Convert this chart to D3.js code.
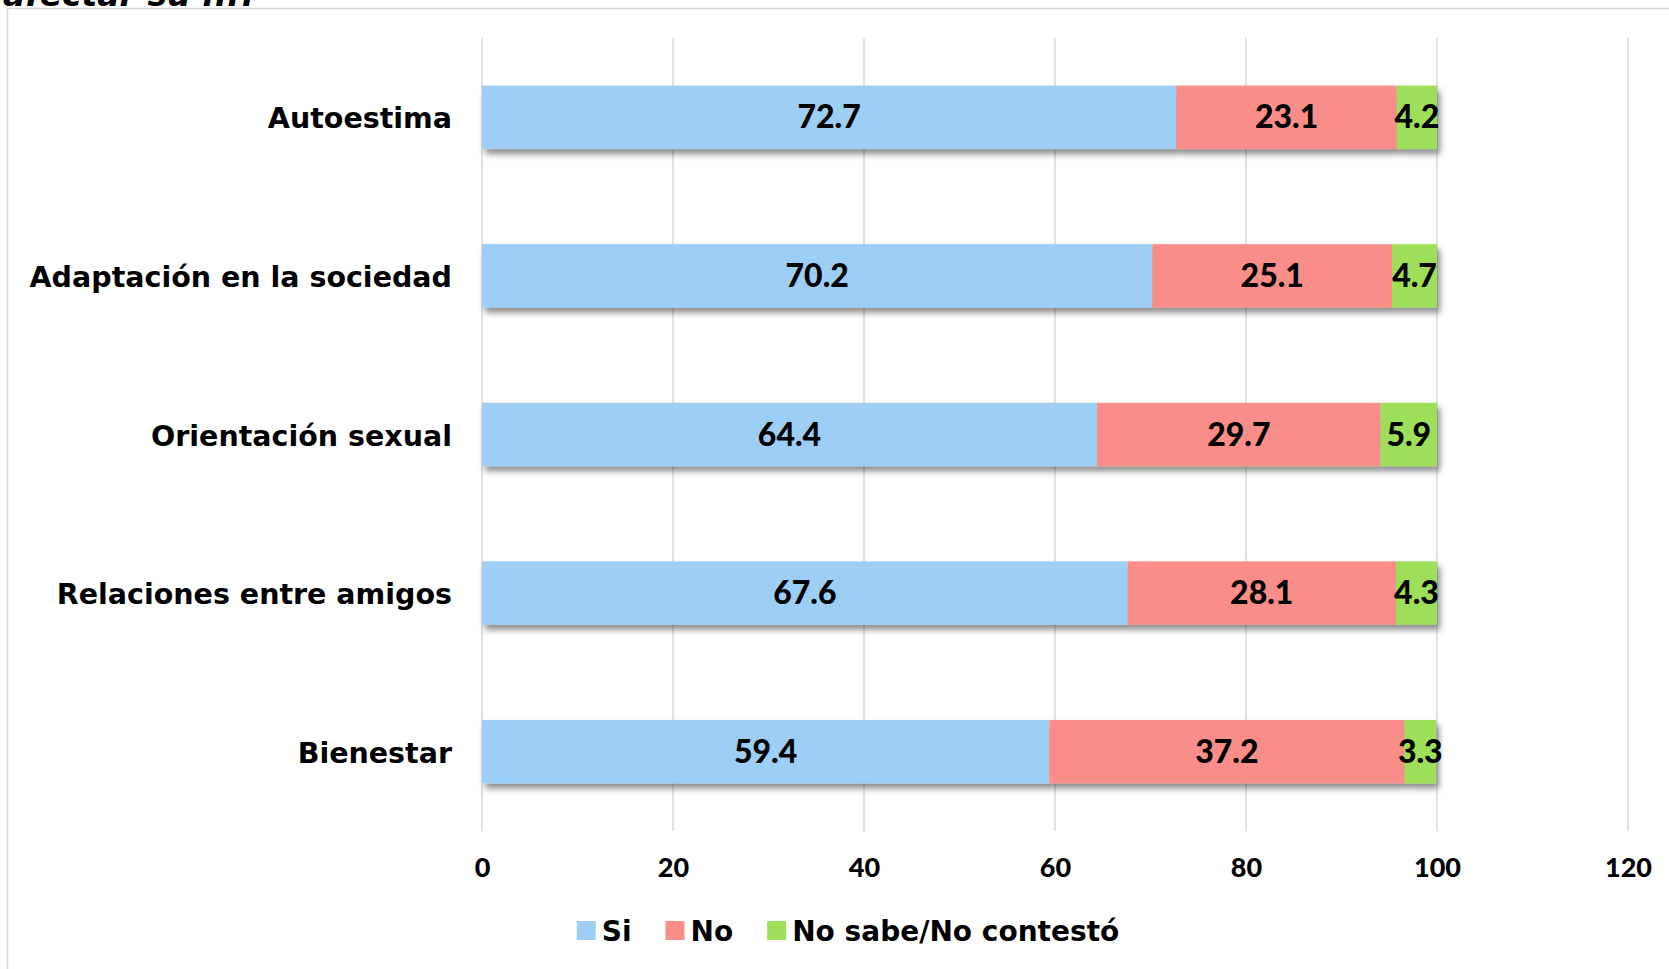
<!DOCTYPE html>
<html>
<head>
<meta charset="utf-8">
<script src="https://cdn.jsdelivr.net/npm/d3@7"></script>
<style>
  body { margin: 0; background: #fff; }
  text { font-family: "DejaVu Sans", sans-serif; font-weight: 700; fill: #000; }
  .num { font-family: "Lato", "Open Sans", sans-serif; font-weight: 900; }
</style>
</head>
<body>
<div id="chart"></div>
<script>
// data
const categories = ['Autoestima', 'Adaptación en la sociedad', 'Orientación sexual', 'Relaciones entre amigos', 'Bienestar'];
const si = [72.7, 70.2, 64.4, 67.6, 59.4];
const no = [23.1, 25.1, 29.7, 28.1, 37.2];
const nsnc = [4.2, 4.7, 5.9, 4.3, 3.3];
const seriesNames = ['Si', 'No', 'No sabe/No contestó'];
const xTicks = [0, 20, 40, 60, 80, 100, 120];

const width = 1669, height = 969;
const colors = ['#9DCFF6', '#F98D87', '#9DDF58'];

let svg = d3.select('#chart').append('svg')
  .attr('width', width)
  .attr('height', height);

// drop shadow under bars
let defs = svg.append('defs');
defs.append('filter')
  .attr('id', 'shadow')
  .attr('x', '-5%').attr('y', '-20%')
  .attr('width', '110%').attr('height', '160%')
  .append('feDropShadow')
    .attr('dx', 3).attr('dy', 5)
    .attr('stdDeviation', 3)
    .attr('flood-color', '#000')
    .attr('flood-opacity', 0.45);

// title, cropped by the top edge as in the source
svg.append('text')
  .attr('x', 3).attr('y', 6)
  .style('font-size', '33px')
  .style('font-style', 'italic')
  .text('afectar su ...?');

// chart frame (open on right and bottom)
svg.append('rect')
  .attr('x', 7.5).attr('y', 8.5)
  .attr('width', width + 20).attr('height', height + 20)
  .attr('fill', 'none')
  .attr('stroke', '#d9d9d9')
  .attr('stroke-width', 1.5);

let x = d3.scaleLinear().domain([0, 120]).range([482, 1628]);
let y = d3.scaleBand().domain(categories).range([38, 831]).paddingInner(0.6).paddingOuter(0.3);

// gridlines
svg.append('g')
  .selectAll('line')
  .data(xTicks)
  .enter().append('line')
    .attr('x1', d => x(d)).attr('x2', d => x(d))
    .attr('y1', 38).attr('y2', 831)
    .attr('stroke', '#d9d9d9')
    .attr('stroke-width', 1.5);

// x axis labels
let xAxis = svg.append('g')
  .attr('transform', 'translate(0, 858)')
  .call(d3.axisBottom(x).tickValues(xTicks).tickSize(0).tickPadding(0));
xAxis.select('.domain').remove();
xAxis.selectAll('text')
  .attr('class', 'num')
  .attr('dy', '0.71em')
  .style('font-size', '27px');

// stacked data
let rows = categories.map((c, i) => ({cat: c, 'Si': si[i], 'No': no[i], 'No sabe/No contestó': nsnc[i]}));
let stacked = d3.stack().keys(seriesNames)(rows);

let barRows = svg.append('g').selectAll('.row')
  .data(rows)
  .enter().append('g')
    .attr('class', 'row')
    .attr('filter', 'url(#shadow)');

barRows.selectAll('rect')
  .data((d, i) => stacked.map((s, k) => ({cat: d.cat, x0: s[i][0], x1: s[i][1], k: k})))
  .enter().append('rect')
    .attr('x', d => x(d.x0))
    .attr('y', d => y(d.cat))
    .attr('width', d => x(d.x1) - x(d.x0))
    .attr('height', y.bandwidth())
    .attr('fill', d => colors[d.k]);

// value labels
stacked.forEach((s, k) => {
  svg.append('g').selectAll('text')
    .data(s)
    .enter().append('text')
      .attr('class', 'num')
      .attr('x', d => x((d[0] + d[1]) / 2))
      .attr('y', d => y(d.data.cat) + y.bandwidth() / 2 + 11)
      .attr('text-anchor', 'middle')
      .style('font-size', '32px')
      .text(d => d3.format('.1f')(d[1] - d[0]));
});

// category labels
svg.append('g').selectAll('text')
  .data(categories)
  .enter().append('text')
    .attr('x', 452)
    .attr('y', d => y(d) + y.bandwidth() / 2 + 11)
    .attr('text-anchor', 'end')
    .style('font-size', '28.5px')
    .text(d => d);

// legend
let legend = svg.append('g');
let lx = 0;
seriesNames.forEach((name, k) => {
  let g = legend.append('g').attr('transform', `translate(${lx}, 0)`);
  g.append('rect')
    .attr('x', 0).attr('y', 921)
    .attr('width', 19).attr('height', 19)
    .attr('fill', colors[k]);
  let t = g.append('text')
    .attr('x', 25).attr('y', 941)
    .style('font-size', '28px')
    .text(name);
  lx += 25 + t.node().getComputedTextLength() + 34;
});
let legendWidth = lx - 34;
legend.attr('transform', `translate(${848 - legendWidth / 2}, 0)`);
</script>
</body>
</html>
